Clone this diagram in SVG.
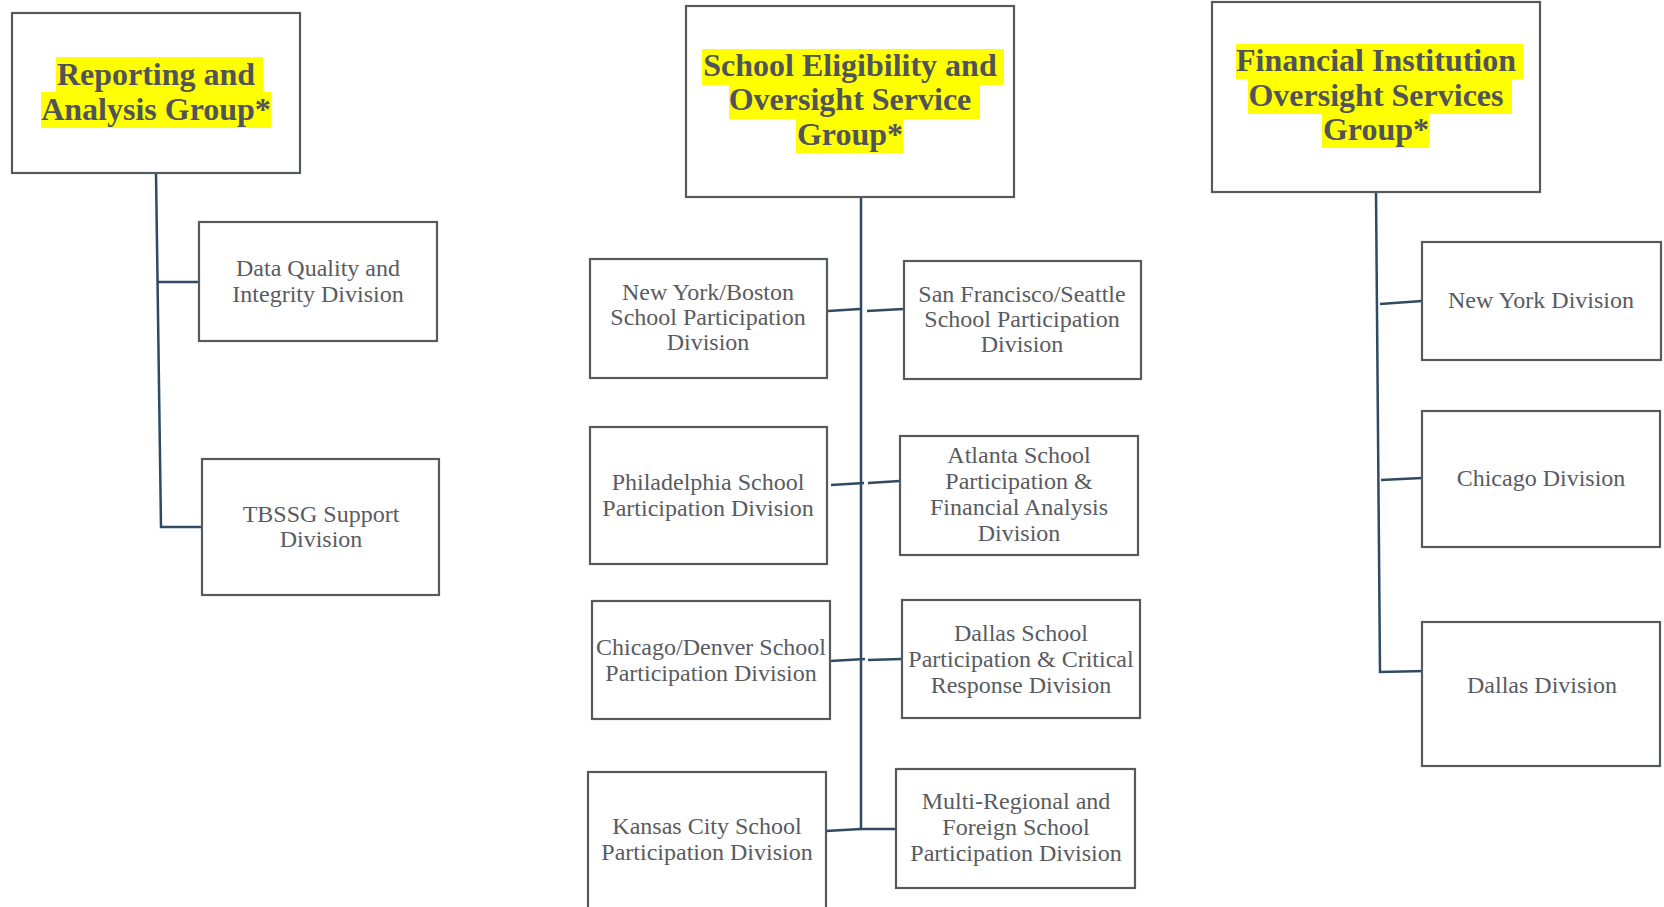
<svg xmlns="http://www.w3.org/2000/svg" width="1664" height="907" viewBox="0 0 1664 907">
<style>
.box{fill:#ffffff;stroke:#58595b;stroke-width:2.2}
.hl{fill:#ffff00}
.hd{font-family:"Liberation Serif","Times New Roman",serif;font-weight:bold;fill:#50545a;text-anchor:middle;font-size:32px}
.tx{font-family:"Liberation Serif","Times New Roman",serif;fill:#595b5f;text-anchor:middle;font-size:24px}
.cn{fill:none;stroke:#2f4a62;stroke-width:2.5}
</style>
<rect width="1664" height="907" fill="#ffffff"/>
<g id="connectors">
<polyline class="cn" points="156,173 161,527 202,527"/>
<line class="cn" x1="158" y1="282" x2="199" y2="282"/>
<polyline class="cn" points="861,197 861,829 896,829"/>
<line class="cn" x1="828" y1="311" x2="860" y2="309"/>
<line class="cn" x1="867" y1="311" x2="903" y2="309"/>
<line class="cn" x1="831" y1="485" x2="864" y2="483"/>
<line class="cn" x1="868" y1="483" x2="900" y2="481"/>
<line class="cn" x1="830" y1="661" x2="865" y2="659"/>
<line class="cn" x1="868" y1="660" x2="902" y2="659"/>
<line class="cn" x1="826" y1="831" x2="861" y2="829"/>
<polyline class="cn" points="1376,192 1380,672 1425,671"/>
<line class="cn" x1="1380" y1="304" x2="1422" y2="301"/>
<line class="cn" x1="1381" y1="480" x2="1422" y2="478"/>
</g>
<g id="reporting">
<rect class="box" x="12" y="13" width="288" height="160"/>
<rect class="hl" x="56" y="57" width="207" height="35"/>
<rect class="hl" x="41" y="92" width="230" height="36"/>
<text class="hd" x="156" y="85">Reporting and</text>
<text class="hd" x="156" y="120">Analysis Group*</text>
</g>
<g id="data-quality">
<rect class="box" x="199" y="222" width="238" height="119"/>
<text class="tx" x="318" y="276">Data Quality and</text>
<text class="tx" x="318" y="302">Integrity Division</text>
</g>
<g id="tbssg">
<rect class="box" x="202" y="459" width="237" height="136"/>
<text class="tx" x="321" y="522">TBSSG Support</text>
<text class="tx" x="321" y="547">Division</text>
</g>
<g id="school-eligibility">
<rect class="box" x="686" y="6" width="328" height="191"/>
<rect class="hl" x="702" y="49" width="302" height="36"/>
<rect class="hl" x="729" y="85" width="251" height="34"/>
<rect class="hl" x="796" y="119" width="107" height="34"/>
<text class="hd" x="850" y="76">School Eligibility and</text>
<text class="hd" x="850" y="110">Oversight Service</text>
<text class="hd" x="850" y="145">Group*</text>
</g>
<g id="ny-boston">
<rect class="box" x="590" y="259" width="237" height="119"/>
<text class="tx" x="708" y="300">New York/Boston</text>
<text class="tx" x="708" y="325">School Participation</text>
<text class="tx" x="708" y="350">Division</text>
</g>
<g id="sf-seattle">
<rect class="box" x="904" y="261" width="237" height="118"/>
<text class="tx" x="1022" y="302">San Francisco/Seattle</text>
<text class="tx" x="1022" y="327">School Participation</text>
<text class="tx" x="1022" y="352">Division</text>
</g>
<g id="philadelphia">
<rect class="box" x="590" y="427" width="237" height="137"/>
<text class="tx" x="708" y="490">Philadelphia School</text>
<text class="tx" x="708" y="516">Participation Division</text>
</g>
<g id="atlanta">
<rect class="box" x="900" y="436" width="238" height="119"/>
<text class="tx" x="1019" y="463">Atlanta School</text>
<text class="tx" x="1019" y="489">Participation &amp;</text>
<text class="tx" x="1019" y="515">Financial Analysis</text>
<text class="tx" x="1019" y="541">Division</text>
</g>
<g id="chicago-denver">
<rect class="box" x="592" y="601" width="238" height="118"/>
<text class="tx" x="711" y="655">Chicago/Denver School</text>
<text class="tx" x="711" y="681">Participation Division</text>
</g>
<g id="dallas-school">
<rect class="box" x="902" y="600" width="238" height="118"/>
<text class="tx" x="1021" y="641">Dallas School</text>
<text class="tx" x="1021" y="667">Participation &amp; Critical</text>
<text class="tx" x="1021" y="693">Response Division</text>
</g>
<g id="kansas-city">
<rect class="box" x="588" y="772" width="238" height="150"/>
<text class="tx" x="707" y="834">Kansas City School</text>
<text class="tx" x="707" y="860">Participation Division</text>
</g>
<g id="multi-regional">
<rect class="box" x="896" y="769" width="239" height="119"/>
<text class="tx" x="1016" y="809">Multi-Regional and</text>
<text class="tx" x="1016" y="835">Foreign School</text>
<text class="tx" x="1016" y="861">Participation Division</text>
</g>
<g id="financial-institution">
<rect class="box" x="1212" y="2" width="328" height="190"/>
<rect class="hl" x="1236" y="44" width="287" height="35"/>
<rect class="hl" x="1248" y="79" width="264" height="35"/>
<rect class="hl" x="1322" y="114" width="107" height="34"/>
<text class="hd" x="1376" y="71">Financial Institution</text>
<text class="hd" x="1376" y="106">Oversight Services</text>
<text class="hd" x="1376" y="140">Group*</text>
</g>
<g id="ny-division">
<rect class="box" x="1422" y="242" width="239" height="118"/>
<text class="tx" x="1541" y="308">New York Division</text>
</g>
<g id="chicago-division">
<rect class="box" x="1422" y="411" width="238" height="136"/>
<text class="tx" x="1541" y="486">Chicago Division</text>
</g>
<g id="dallas-division">
<rect class="box" x="1422" y="622" width="238" height="144"/>
<text class="tx" x="1542" y="693">Dallas Division</text>
</g>
</svg>
